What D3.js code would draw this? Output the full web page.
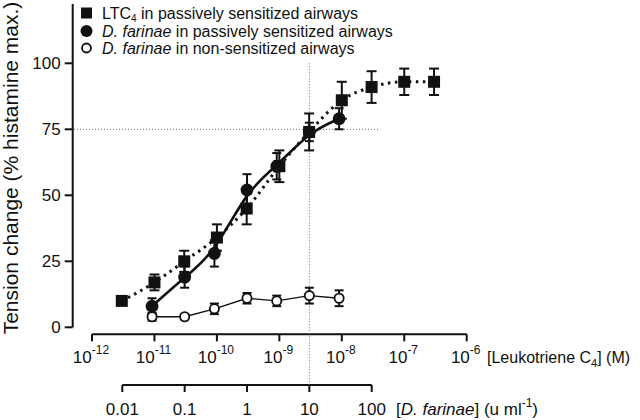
<!DOCTYPE html>
<html>
<head>
<meta charset="utf-8">
<script src="https://cdn.jsdelivr.net/npm/d3@7"></script>
<style>
  html, body { margin: 0; padding: 0; background: #fff; }
  svg { display: block; font-family: "Liberation Sans", Arial, Helvetica, sans-serif; }
</style>
</head>
<body>
<svg id="chart" width="640" height="420"></svg>
<script>
// ---- Data ----
const ltcConc   = [3e-12, 1e-11, 3e-11, 1e-10, 3e-10, 1e-9, 3e-9, 1e-8, 3e-8, 1e-7, 3e-7];
const ltcMean   = [10, 17, 25, 34, 45, 61, 74, 86, 91, 93, 93];
const ltcSem    = [1, 3, 4, 5, 6, 6, 7, 7, 6, 5, 5];

const dfConc    = [0.03, 0.1, 0.3, 1, 3, 10, 30];
const dfSensMean = [8, 19, 28, 52, 61, 74, 79];
const dfSensSem  = [3, 4, 5, 6, 5, 3.5, 4];
const dfNonMean  = [4, 4, 7, 11, 10, 12, 11];
const dfNonSem   = [1.5, 1, 2, 2, 2, 3, 3];

const yTicks   = [0, 25, 50, 75, 100];
const ltcTicks = [1e-12, 1e-11, 1e-10, 1e-9, 1e-8, 1e-7, 1e-6];
const ltcTickExp = ["-12", "-11", "-10", "-9", "-8", "-7", "-6"];
const dfTicks  = [0.01, 0.1, 1, 10, 100];
const dfTickLabels = ["0.01", "0.1", "1", "10", "100"];
const refConcDf = 10;   // dotted reference: 10 u/ml (= 3e-9 M LTC4)
const refLevel  = 75;   // dotted reference: 75 %

const legendItems = [
  { shape: "square", parts: [["LTC", ""], ["4", "sub"], [" in passively sensitized airways", ""]] },
  { shape: "filled", parts: [["D. farinae", "it"], [" in passively sensitized airways", ""]] },
  { shape: "open",   parts: [["D. farinae", "it"], [" in non-sensitized airways", ""]] }
];

// ---- Scales ----
const svg = d3.select("#chart");
const y  = d3.scaleLinear().domain([0, 100]).range([327.3, 63.3]);
const xL = d3.scaleLog().domain([1e-12, 1e-6]).range([92, 466.7]);
const xD = d3.scaleLog().domain([0.01, 100]).range([122.3, 371.7]);

const black = "#111";

// ---- Y axis ----
const yAxisG = svg.append("g").attr("transform", "translate(72.7,0)");
yAxisG.append("line").attr("x1", 0).attr("x2", 0).attr("y1", 4).attr("y2", y(0))
  .attr("stroke", black).attr("stroke-width", 2);
yAxisG.selectAll("line.tk").data(yTicks).enter().append("line").attr("class", "tk")
  .attr("x1", -8).attr("x2", 0).attr("y1", d => y(d)).attr("y2", d => y(d))
  .attr("stroke", black).attr("stroke-width", 2);
yAxisG.selectAll("text").data(yTicks).enter().append("text")
  .attr("x", -12).attr("y", d => y(d) + 6).attr("text-anchor", "end")
  .attr("font-size", 17).attr("fill", black).text(d => d);

svg.append("text").attr("transform", "translate(18,168) rotate(-90)")
  .attr("text-anchor", "middle").attr("font-size", 21).attr("fill", black)
  .text("Tension change (% histamine max.)");

// ---- LTC4 x axis ----
const xAxisY = 334.3;
const xg = svg.append("g");
xg.append("line").attr("x1", xL(1e-12)).attr("x2", xL(1e-6)).attr("y1", xAxisY).attr("y2", xAxisY)
  .attr("stroke", black).attr("stroke-width", 2);
xg.selectAll("line.tk").data(ltcTicks).enter().append("line").attr("class", "tk")
  .attr("x1", d => xL(d)).attr("x2", d => xL(d)).attr("y1", xAxisY).attr("y2", xAxisY + 7)
  .attr("stroke", black).attr("stroke-width", 2);
ltcTicks.forEach((t, i) => {
  const tx = xg.append("text").attr("x", xL(t) - 1).attr("y", 363).attr("text-anchor", "middle")
    .attr("font-size", 17).attr("fill", black);
  tx.append("tspan").text("10");
  tx.append("tspan").attr("font-size", 12).attr("dy", -9).text(ltcTickExp[i]);
});
const lab1 = svg.append("text").attr("x", 487).attr("y", 363).attr("font-size", 16).attr("fill", black);
lab1.append("tspan").text("[Leukotriene C");
lab1.append("tspan").attr("font-size", 11).attr("dy", 4).text("4");
lab1.append("tspan").attr("dy", -4).text("] (M)");

// ---- D. farinae x axis ----
const x2Y = 385;
const xg2 = svg.append("g");
xg2.append("line").attr("x1", xD(0.01)).attr("x2", xD(100)).attr("y1", x2Y).attr("y2", x2Y)
  .attr("stroke", black).attr("stroke-width", 2);
xg2.selectAll("line.tk").data(dfTicks).enter().append("line").attr("class", "tk")
  .attr("x1", d => xD(d)).attr("x2", d => xD(d)).attr("y1", x2Y).attr("y2", x2Y + 7)
  .attr("stroke", black).attr("stroke-width", 2);
xg2.selectAll("text").data(dfTicks).enter().append("text")
  .attr("x", d => xD(d)).attr("y", 415).attr("text-anchor", "middle")
  .attr("font-size", 17).attr("fill", black).text((d, i) => dfTickLabels[i]);
const lab2 = svg.append("text").attr("x", 396).attr("y", 415).attr("font-size", 17).attr("fill", black);
lab2.append("tspan").text("[");
lab2.append("tspan").attr("font-style", "italic").text("D. farinae");
lab2.append("tspan").text("] (u ml");
lab2.append("tspan").attr("font-size", 12).attr("dy", -8).text("-1");
lab2.append("tspan").attr("dy", 8).text(")");

// ---- Reference dotted lines ----
svg.append("line").attr("x1", 74).attr("x2", 378).attr("y1", y(refLevel)).attr("y2", y(refLevel))
  .attr("stroke", "#666").attr("stroke-width", 1).attr("stroke-dasharray", "1,2");
svg.append("line").attr("x1", xD(refConcDf)).attr("x2", xD(refConcDf)).attr("y1", y(100)).attr("y2", x2Y)
  .attr("stroke", "#666").attr("stroke-width", 1).attr("stroke-dasharray", "1,2");

// ---- Curves ----
const ltcPts = ltcConc.map((c, i) => [xL(c), y(ltcMean[i])]);
const sensPts = dfConc.map((c, i) => [xD(c), y(dfSensMean[i])]);
const nonPts = dfConc.map((c, i) => [xD(c), y(dfNonMean[i])]);

svg.append("path").attr("d", d3.line().curve(d3.curveMonotoneX)(ltcPts))
  .attr("fill", "none").attr("stroke", black).attr("stroke-width", 3)
  .attr("stroke-dasharray", "2.5,4.5");
svg.append("path").attr("d", d3.line().curve(d3.curveBasis)(sensPts))
  .attr("fill", "none").attr("stroke", black).attr("stroke-width", 2.6);
svg.append("path").attr("d", d3.line()(nonPts))
  .attr("fill", "none").attr("stroke", black).attr("stroke-width", 1.3);

// ---- Error bars ----
function errorBars(xs, means, sems, cap) {
  const g = svg.append("g").attr("stroke", black).attr("stroke-width", 2);
  xs.forEach((xp, i) => {
    const top = y(means[i] + sems[i]), bot = y(means[i] - sems[i]);
    g.append("line").attr("x1", xp).attr("x2", xp).attr("y1", top).attr("y2", bot);
    g.append("line").attr("x1", xp - cap).attr("x2", xp + cap).attr("y1", top).attr("y2", top);
    g.append("line").attr("x1", xp - cap).attr("x2", xp + cap).attr("y1", bot).attr("y2", bot);
  });
}
errorBars(dfConc.map(c => xD(c)), dfNonMean, dfNonSem, 4.5);
errorBars(dfConc.map(c => xD(c)), dfSensMean, dfSensSem, 4.5);
errorBars(ltcConc.map(c => xL(c)), ltcMean, ltcSem, 5);

// ---- Markers ----
svg.append("g").selectAll("circle").data(dfConc).enter().append("circle")
  .attr("cx", d => xD(d)).attr("cy", (d, i) => y(dfNonMean[i])).attr("r", 4.6)
  .attr("fill", "#fff").attr("stroke", black).attr("stroke-width", 1.8);
svg.append("g").selectAll("circle").data(dfConc).enter().append("circle")
  .attr("cx", d => xD(d)).attr("cy", (d, i) => y(dfSensMean[i])).attr("r", 6.4)
  .attr("fill", black);
svg.append("g").selectAll("rect").data(ltcConc).enter().append("rect")
  .attr("x", d => xL(d) - 6).attr("y", (d, i) => y(ltcMean[i]) - 6)
  .attr("width", 12).attr("height", 12).attr("fill", black);

// ---- Legend ----
const legRows = [13, 31, 48];
legendItems.forEach((item, i) => {
  const cy = legRows[i];
  if (item.shape === "square") {
    svg.append("rect").attr("x", 81).attr("y", cy - 5.5).attr("width", 11).attr("height", 11).attr("fill", black);
  } else if (item.shape === "filled") {
    svg.append("circle").attr("cx", 86.5).attr("cy", cy).attr("r", 6).attr("fill", black);
  } else {
    svg.append("circle").attr("cx", 86.5).attr("cy", cy).attr("r", 4.5)
      .attr("fill", "#fff").attr("stroke", black).attr("stroke-width", 1.8);
  }
  const t = svg.append("text").attr("x", 102).attr("y", cy + 6).attr("font-size", 16).attr("fill", black);
  let shifted = 0;
  item.parts.forEach(([s, kind]) => {
    const sp = t.append("tspan").text(s);
    if (kind === "it") sp.attr("font-style", "italic");
    if (kind === "sub") { sp.attr("font-size", 10).attr("dy", 3); shifted = 3; }
    else if (shifted) { sp.attr("dy", -shifted); shifted = 0; }
  });
});
</script>
</body>
</html>
